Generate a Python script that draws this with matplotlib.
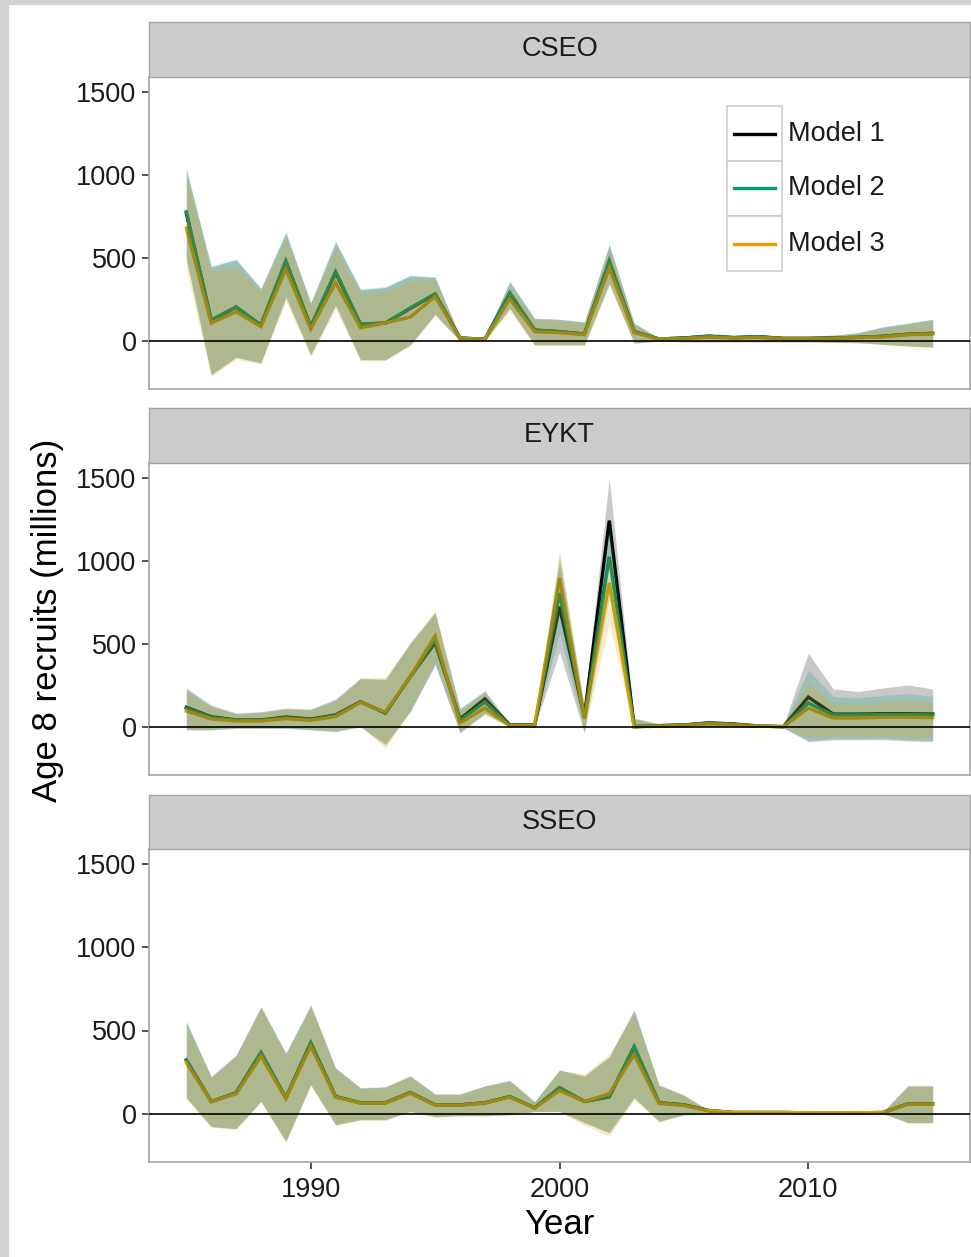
import numpy as np
import matplotlib
matplotlib.use('Agg')
import matplotlib.pyplot as plt
from matplotlib.patches import Rectangle
from matplotlib.lines import Line2D

plt.rcParams['font.family'] = ['Liberation Sans', 'DejaVu Sans']

years = np.arange(1985, 2016)
models = ['Model 1', 'Model 2', 'Model 3']
colors = ['#000000', '#009E73', '#E69F00']
areas = ['CSEO', 'EYKT', 'SSEO']

# --- CSEO ---
cseo_m1 = [770, 124, 204, 95, 478, 85, 412, 101, 107, 196, 282, 18, 10, 287, 65, 56, 42, 478, 56, 12, 18, 28, 20, 25, 15, 15, 18, 22, 28, 40, 46]
cseo_m2 = [778, 126, 205, 96, 482, 86, 417, 102, 108, 199, 283, 18, 10, 289, 66, 56, 42, 483, 56, 12, 18, 28, 20, 25, 15, 15, 18, 22, 28, 42, 46]
cseo_m3 = [680, 108, 176, 86, 433, 72, 351, 80, 108, 144, 267, 16, 8, 253, 56, 50, 38, 439, 50, 10, 15, 24, 18, 22, 14, 14, 16, 20, 24, 38, 42]
cseo_m1_lo = [490, -200, -98, -130, 262, -82, 214, -112, -112, -22, 160, 0, 2, 196, -22, -22, -22, 345, -12, 0, -5, -5, -5, -5, -5, -5, -8, -10, -20, -30, -36]
cseo_m2_lo = [500, -205, -100, -132, 267, -84, 217, -114, -114, -24, 163, 0, 2, 199, -24, -24, -24, 351, -12, 0, -5, -5, -5, -5, -5, -5, -8, -10, -20, -30, -36]
cseo_m3_lo = [430, -215, -110, -140, 240, -95, 190, -120, -118, -30, 150, -2, 0, 180, -28, -28, -28, 330, -15, -2, -6, -6, -6, -6, -6, -6, -9, -12, -22, -32, -38]
cseo_m1_hi = [1030, 445, 488, 315, 650, 228, 595, 308, 322, 392, 383, 25, 18, 356, 135, 130, 114, 578, 106, 18, 30, 45, 35, 40, 30, 30, 35, 50, 84, 106, 130]
cseo_m2_hi = [1040, 451, 494, 319, 658, 231, 602, 313, 327, 397, 387, 25, 18, 361, 138, 132, 116, 584, 108, 18, 30, 45, 35, 40, 30, 30, 35, 50, 86, 108, 132]
cseo_m3_hi = [1000, 420, 440, 300, 620, 215, 560, 280, 300, 360, 370, 22, 15, 330, 125, 120, 105, 550, 100, 16, 28, 40, 32, 36, 28, 28, 30, 44, 75, 95, 118]

# --- EYKT ---
eykt_m1 = [118, 62, 42, 42, 60, 48, 72, 152, 84, 303, 508, 48, 169, 12, 12, 724, 62, 1242, 2, 8, 12, 24, 18, 6, 2, 180, 78, 78, 80, 80, 78]
eykt_m2 = [112, 58, 40, 40, 56, 45, 68, 150, 86, 300, 520, 40, 150, 10, 10, 806, 58, 1025, 4, 8, 12, 22, 16, 6, 2, 144, 72, 72, 74, 74, 72]
eykt_m3 = [96, 48, 36, 36, 50, 40, 62, 148, 90, 303, 548, 24, 114, 8, 8, 897, 50, 867, 2, 6, 10, 20, 14, 5, 2, 114, 54, 54, 58, 58, 56]
eykt_m1_lo = [-18, -18, -8, -8, -8, -18, -28, 0, -108, 92, 373, -36, 84, 0, 0, 450, -36, 980, -8, -2, -2, 5, 2, -2, -5, -88, -78, -78, -76, -84, -88]
eykt_m2_lo = [-15, -15, -6, -6, -6, -15, -25, 5, -100, 95, 380, -30, 80, 0, 0, 560, -30, 780, -6, -2, -2, 5, 2, -2, -5, -80, -70, -70, -68, -75, -80]
eykt_m3_lo = [-10, -12, -5, -5, -5, -12, -20, 8, -130, 100, 400, -25, 70, 0, 0, 680, -25, 620, -5, -1, -1, 4, 2, -1, -4, -60, -55, -55, -52, -58, -60]
eykt_m1_hi = [235, 132, 84, 92, 114, 108, 169, 295, 283, 506, 688, 114, 219, 18, 18, 1000, 122, 1499, 54, 20, 25, 40, 30, 15, 10, 445, 229, 213, 235, 253, 229]
eykt_m2_hi = [225, 125, 80, 88, 108, 104, 160, 290, 290, 500, 690, 105, 210, 16, 16, 1040, 115, 1222, 50, 18, 24, 38, 28, 14, 10, 343, 183, 175, 190, 200, 185]
eykt_m3_hi = [215, 118, 76, 84, 104, 100, 155, 290, 300, 510, 700, 95, 200, 15, 15, 1066, 110, 1066, 45, 16, 22, 36, 26, 12, 8, 265, 145, 140, 150, 160, 150]

# --- SSEO ---
sseo_m1 = [322, 74, 125, 366, 95, 424, 103, 66, 66, 127, 54, 54, 66, 103, 36, 155, 74, 102, 400, 66, 54, 20, 8, 8, 8, 6, 6, 6, 8, 60, 60]
sseo_m2 = [325, 74, 126, 369, 96, 427, 104, 66, 66, 128, 54, 54, 66, 104, 36, 157, 74, 104, 405, 66, 54, 20, 8, 8, 8, 6, 6, 6, 8, 60, 60]
sseo_m3 = [307, 74, 120, 345, 92, 405, 100, 64, 64, 124, 52, 52, 64, 100, 34, 140, 74, 120, 355, 62, 50, 18, 8, 8, 8, 6, 6, 6, 8, 58, 58]
sseo_m1_lo = [98, -76, -88, 76, -164, 176, -64, -34, -34, 15, -16, -10, -10, -5, 15, 15, -52, -112, 98, -44, -5, 0, 2, 2, 2, 2, 2, 2, 2, -52, -52]
sseo_m2_lo = [96, -78, -90, 74, -167, 175, -66, -36, -36, 14, -18, -12, -12, -6, 14, 14, -54, -115, 96, -46, -6, 0, 2, 2, 2, 2, 2, 2, 2, -54, -54]
sseo_m3_lo = [90, -80, -92, 70, -170, 170, -70, -40, -40, 10, -20, -14, -14, -8, 10, 10, -70, -135, 84, -50, -8, 0, 2, 2, 2, 2, 2, 2, 2, -56, -56]
sseo_m1_hi = [550, 222, 350, 640, 362, 650, 274, 155, 161, 227, 118, 118, 167, 199, 73, 262, 226, 340, 620, 172, 112, 20, 12, 12, 12, 10, 10, 10, 12, 167, 167]
sseo_m2_hi = [556, 225, 355, 646, 367, 656, 277, 157, 163, 229, 120, 120, 169, 201, 74, 265, 229, 345, 626, 175, 114, 20, 12, 12, 12, 10, 10, 10, 12, 169, 169]
sseo_m3_hi = [540, 215, 345, 630, 355, 640, 270, 150, 160, 225, 115, 115, 165, 195, 70, 258, 240, 360, 600, 170, 110, 18, 10, 10, 10, 9, 9, 9, 11, 165, 165]

panel_data = {
    'CSEO': [(cseo_m1, cseo_m1_lo, cseo_m1_hi), (cseo_m2, cseo_m2_lo, cseo_m2_hi), (cseo_m3, cseo_m3_lo, cseo_m3_hi)],
    'EYKT': [(eykt_m1, eykt_m1_lo, eykt_m1_hi), (eykt_m2, eykt_m2_lo, eykt_m2_hi), (eykt_m3, eykt_m3_lo, eykt_m3_hi)],
    'SSEO': [(sseo_m1, sseo_m1_lo, sseo_m1_hi), (sseo_m2, sseo_m2_lo, sseo_m2_hi), (sseo_m3, sseo_m3_lo, sseo_m3_hi)],
}

W, H = 971, 1257
fig = plt.figure(figsize=(W / 100, H / 100), dpi=100)

# light grey frame on the left and top edges
fig.patches.append(Rectangle((0, 0), 8 / W, 1, transform=fig.transFigure, color='#d3d3d3', zorder=0))
fig.patches.append(Rectangle((0, 1 - 4 / H), 1, 4 / H, transform=fig.transFigure, color='#d3d3d3', zorder=0))

left, right = 149, 970
panels_px = [(22, 77, 389), (408, 463, 775), (795, 849, 1162)]
border = '#a6a6a6'

axes = []
for k, area in enumerate(areas):
    s_top, p_top, p_bot = panels_px[k]
    ax = fig.add_axes([left / W, 1 - p_bot / H, (right - left) / W, (p_bot - p_top) / H])
    st = fig.add_axes([left / W, 1 - p_top / H, (right - left) / W, (p_top - s_top) / H])
    st.set_facecolor('#cccccc')
    st.set_xticks([])
    st.set_yticks([])
    for sp in st.spines.values():
        sp.set_color(border)
        sp.set_linewidth(1.0)
    st.text(0.5, 0.5, area, ha='center', va='center', fontsize=19.5, color='#1a1a1a', transform=st.transAxes)

    # lines first, ribbons over them
    for i, (mid, lo, hi) in enumerate(panel_data[area]):
        ax.plot(years, mid, color=colors[i], lw=2.4, zorder=2, solid_joinstyle='miter')
    for i, (mid, lo, hi) in enumerate(panel_data[area]):
        ax.fill_between(years, lo, hi, color=colors[i], alpha=0.21, lw=0, zorder=3)
    ax.axhline(0, color='black', lw=1.2, zorder=4)

    ax.set_xlim(1983.5, 2016.5)
    ax.set_ylim(-289, 1589)
    ax.set_yticks([0, 500, 1000, 1500])
    ax.set_xticks([1990, 2000, 2010])
    ax.tick_params(axis='y', labelsize=19.5, length=5, width=1.2, color='#333333', pad=4, labelcolor='#1a1a1a')
    ax.tick_params(axis='x', labelsize=19.5, length=5, width=1.2, color='#333333', pad=6, labelcolor='#1a1a1a')
    if k < 2:
        ax.tick_params(axis='x', length=0, labelbottom=False)
    for sp in ax.spines.values():
        sp.set_color(border)
        sp.set_linewidth(1.2)
    axes.append(ax)

# legend with boxed keys inside the top panel
ax0 = axes[0]
key_x, key_w, key_h = 0.704, 0.067, 0.1763
key_tops = [0.907, 0.731, 0.554]
for i, name in enumerate(models):
    y0 = key_tops[i] - key_h
    ax0.add_patch(Rectangle((key_x, y0), key_w, key_h, transform=ax0.transAxes,
                            facecolor='white', edgecolor='#cccccc', lw=1.2, zorder=6))
    ax0.add_line(Line2D([key_x + 0.008, key_x + key_w - 0.008], [y0 + key_h / 2] * 2,
                        transform=ax0.transAxes, color=colors[i], lw=2.4, zorder=7))
    ax0.text(key_x + key_w + 0.007, y0 + key_h / 2, name, transform=ax0.transAxes,
             fontsize=19.5, va='center', ha='left', color='#1a1a1a', zorder=7)

fig.text(48 / W, 1 - 620 / H, 'Age 8 recruits (millions)', rotation=90, ha='center', va='center', fontsize=25)
fig.text(559 / W, 1 - 1225 / H, 'Year', ha='center', va='center', fontsize=25)

plt.savefig('out.png', dpi=100)
